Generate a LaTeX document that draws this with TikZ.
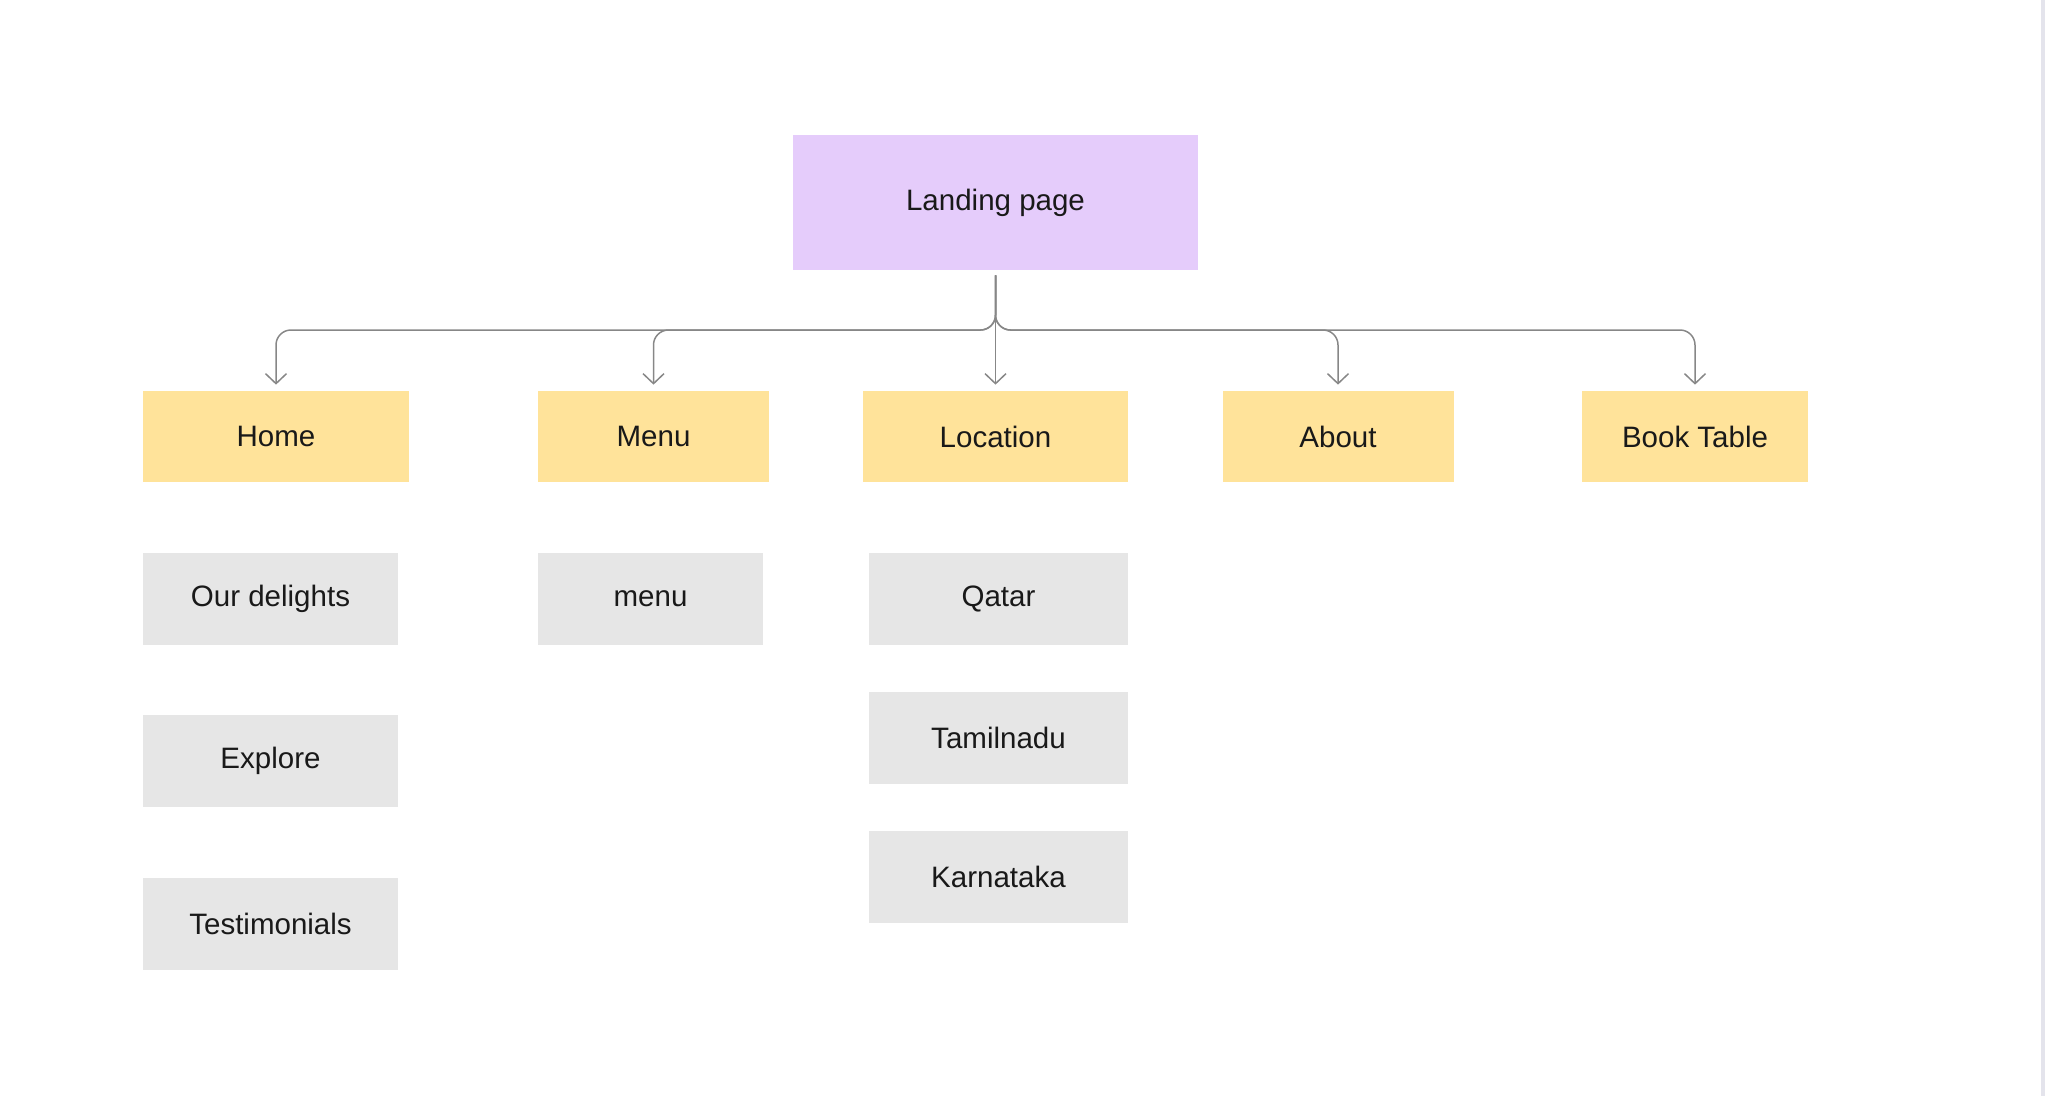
\documentclass[tikz,border=0pt]{standalone}
\usepackage{fontspec}
\setmainfont{Liberation Sans}
\usetikzlibrary{arrows.meta}
\definecolor{landfill}{RGB}{229,204,251}
\definecolor{topfill}{RGB}{255,227,154}
\definecolor{subfill}{RGB}{230,230,230}
\definecolor{linkgray}{RGB}{135,135,135}
\definecolor{textdark}{RGB}{25,25,25}
\definecolor{edgegray}{RGB}{228,228,236}
\begin{document}
\begin{tikzpicture}[x=0.02cm,y=-0.02cm,
  box/.style={inner sep=0pt,text=textdark,font=\fontsize{16.8}{20}\selectfont,minimum height=91*0.02cm},
  landbox/.style={box,fill=landfill,minimum width=405*0.02cm,minimum height=135*0.02cm},
  topbox/.style={box,fill=topfill},
  subbox/.style={box,fill=subfill,minimum height=92*0.02cm},
  link/.style={draw=linkgray,line width=0.85pt,shorten <=0.1cm,shorten >=0.12cm,
    -{Straight Barb[length=0.2cm,width=0.42cm]}}]
\useasboundingbox (0,0) rectangle (2048,1096);
% the faint edge on the right
\draw[edgegray,line width=0.08cm] (2043,0) -- (2043,1096);
% the landing page
\node[landbox] (landing) at (995.5,202.5) {Landing page};
% the main pages
\foreach \name/\x/\w/\txt in {home/276/266/Home,menu/653.5/231/Menu,location/995.5/265/Location,
  about/1338/231/About,booktable/1695/226/Book Table}
  \node[topbox,minimum width=\w*0.02cm] (\name) at (\x,436.5) {\txt};
% the sections under each page
\foreach \name/\x/\y/\w/\txt in {delights/270.5/599/255/Our delights,explore/270.5/761/255/Explore,
  testimonials/270.5/923.5/255/Testimonials,menulist/650.5/599/225/menu,
  qatar/998.5/599/259/Qatar,tamilnadu/998.5/737.5/259/Tamilnadu,karnataka/998.5/877/259/Karnataka}
  \node[subbox,minimum width=\w*0.02cm] (\name) at (\x,\y) {\txt};
% the connectors
\coordinate (bus) at (0,330);
\foreach \c in {home,menu,about,booktable}
  \draw[link,rounded corners=0.3cm] (landing.south) -- (landing.south|-bus) -| (\c.north);
\draw[link] (landing.south) -- (location.north);
\end{tikzpicture}
\end{document}
